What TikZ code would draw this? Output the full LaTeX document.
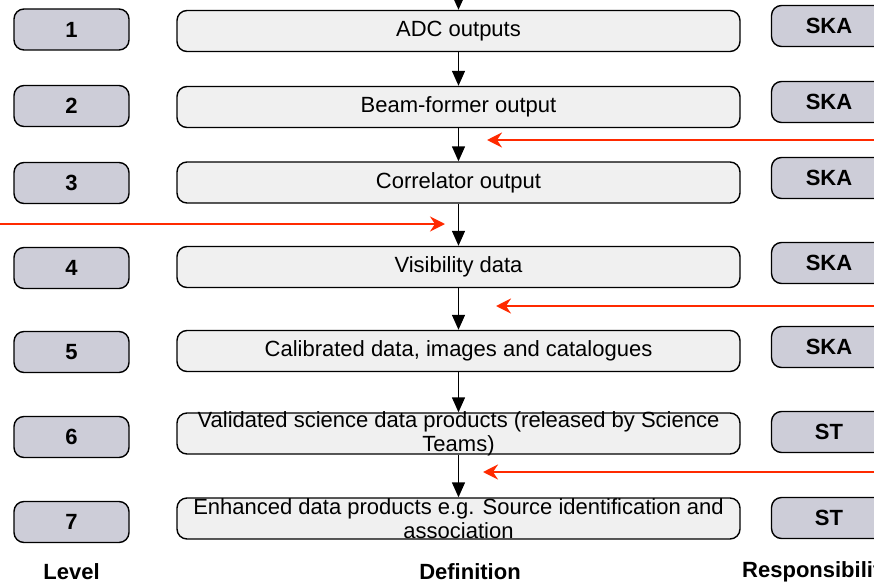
\documentclass[tikz,border=0pt]{standalone}
\usepackage{fontspec}
\setmainfont{Liberation Sans}
\usetikzlibrary{arrows.meta}
\definecolor{lvlgrey}{RGB}{205,205,216}
\definecolor{defgrey}{RGB}{240,240,240}
\definecolor{feedred}{RGB}{255,42,0}
\begin{document}
\begin{tikzpicture}[x=1pt,y=-1pt,>={Triangle[length=15pt,width=13pt]},
  txt/.style={font=\fontsize{22}{24}\selectfont},
  box/.style={draw,line width=1.4pt,rounded corners=10pt,minimum height=41pt,inner sep=0pt,txt},
  levelbox/.style={box,fill=lvlgrey,minimum width=115pt,font=\fontsize{22}{24}\selectfont\bfseries},
  defbox/.style={box,fill=defgrey,minimum width=563pt},
  head/.style={inner sep=0pt,font=\fontsize{22}{24}\selectfont\bfseries},
  flow/.style={->,line width=1.4pt},
  feed/.style={-{Stealth[length=15pt,width=15pt,inset=5pt]},line width=2.4pt,color=feedred}]

\useasboundingbox (0,0) rectangle (874,583);

\node[levelbox] (l1) at (71.5, 29.5) {1};
\node[levelbox] (l2) at (71.5,106.0) {2};
\node[levelbox] (l3) at (71.5,183.0) {3};
\node[levelbox] (l4) at (71.5,268.0) {4};
\node[levelbox] (l5) at (71.5,352.0) {5};
\node[levelbox] (l6) at (71.5,437.0) {6};
\node[levelbox] (l7) at (71.5,522.0) {7};

\node[defbox] (d1) at (458.5, 31.0) {ADC outputs};
\node[defbox] (d2) at (458.5,107.0) {Beam-former output};
\node[defbox] (d3) at (458.5,182.5) {Correlator output};
\node[defbox] (d4) at (458.5,267.0) {Visibility data};
\node[defbox] (d5) at (458.5,351.0) {Calibrated data, images and catalogues};
\node[defbox] (d6) at (458.5,433.5) {};
\node[defbox] (d7) at (458.5,518.5) {};
\node[txt,align=center] (d6t) at (d6) {Validated science data products (released by Science\\Teams)};
\node[txt,align=center] (d7t) at (d7) {Enhanced data products e.g. Source identification and\\association};

\node[levelbox] (r1) at (829, 26) {SKA};
\node[levelbox] (r2) at (829,102) {SKA};
\node[levelbox] (r3) at (829,178) {SKA};
\node[levelbox] (r4) at (829,263) {SKA};
\node[levelbox] (r5) at (829,347) {SKA};
\node[levelbox] (r6) at (829,432) {ST};
\node[levelbox] (r7) at (829,518) {ST};

\coordinate (top) at (458.5,-2);
\draw[flow] (top)--(d1);
\draw[flow] (d1)--(d2);
\draw[flow] (d2)--(d3);
\draw[flow] (d3)--(d4);
\draw[flow] (d4)--(d5);
\draw[flow] (d5)--(d6);
\draw[flow] (d6)--(d7);

\coordinate (in2) at (880,140);  \coordinate (at2) at (487,140);
\coordinate (in3) at (-6,224);   \coordinate (at3) at (445,224);
\coordinate (in4) at (880,306);  \coordinate (at4) at (496,306);
\coordinate (in6) at (880,472);  \coordinate (at6) at (483,472);
\draw[feed] (in2)--(at2);
\draw[feed] (in3)--(at3);
\draw[feed] (in4)--(at4);
\draw[feed] (in6)--(at6);

\node[head] (levhead) at (71.5,572) {Level};
\node[head] (defhead) at (470,572) {Definition};
\node[head,anchor=west] (resphead) at (742,572) {Responsibility};

\end{tikzpicture}
\end{document}
